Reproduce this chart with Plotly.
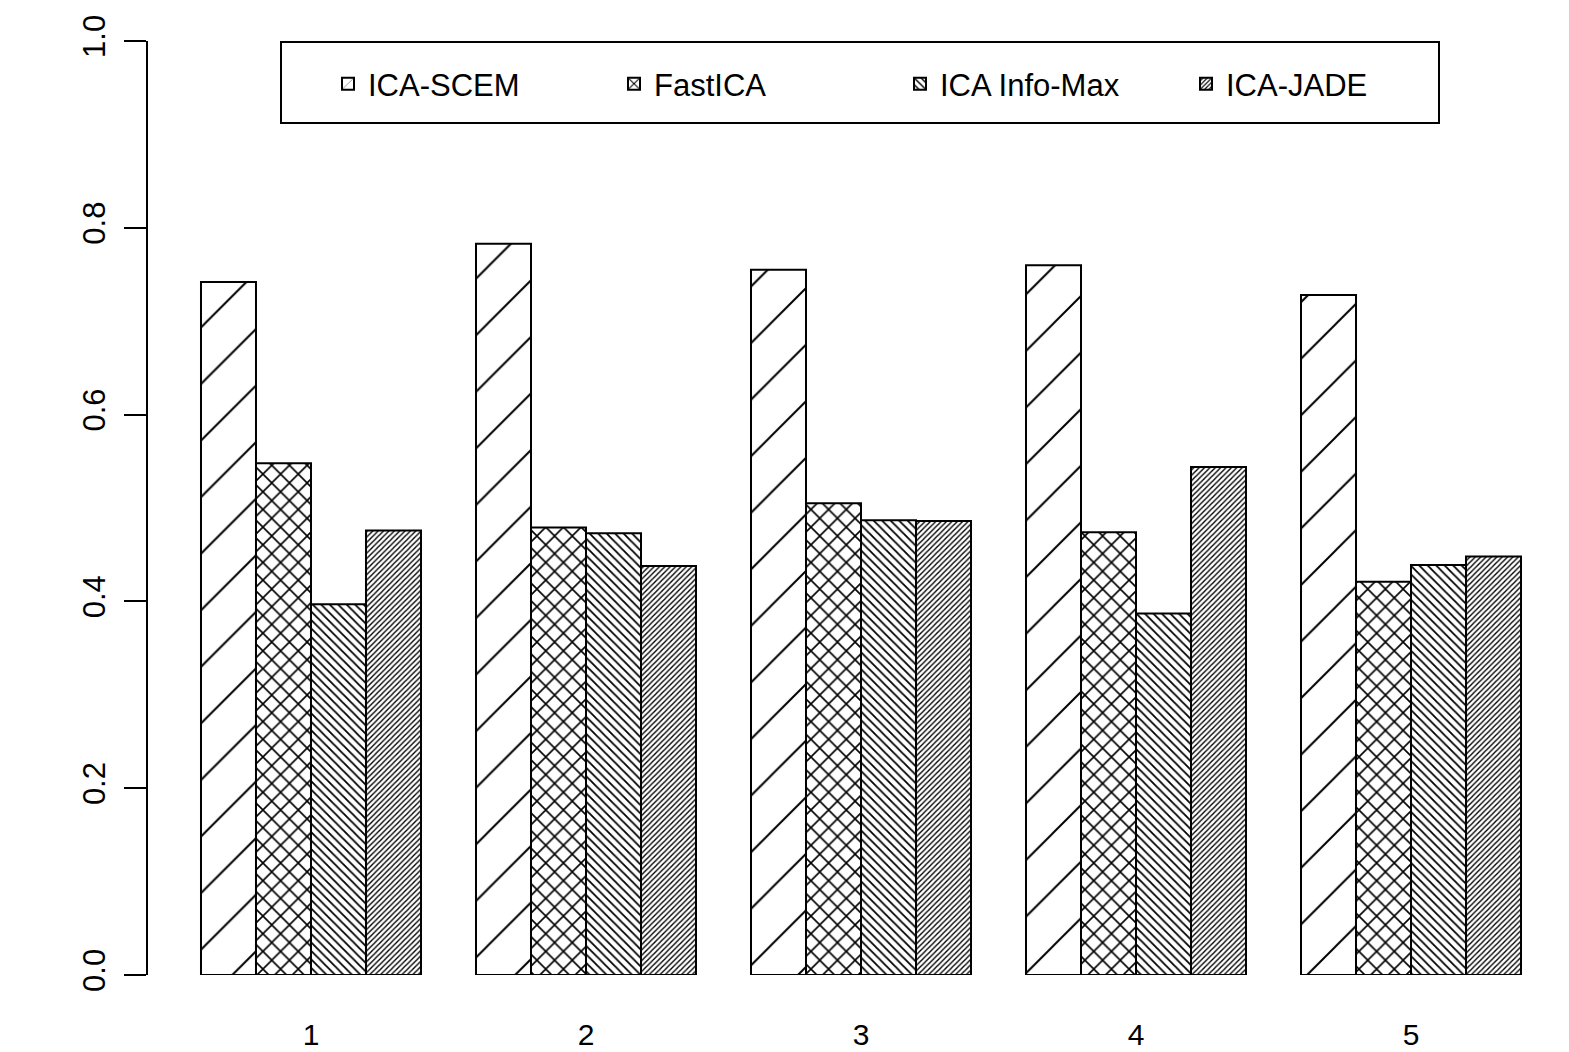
import plotly.graph_objects as go

groups = ["1", "2", "3", "4", "5"]
series_names = ["ICA-SCEM", "FastICA", "ICA Info-Max", "ICA-JADE"]
scem = [0.742, 0.783, 0.755, 0.760, 0.728]
fastica = [0.548, 0.479, 0.505, 0.474, 0.421]
infomax = [0.397, 0.473, 0.487, 0.387, 0.439]
jade = [0.476, 0.438, 0.486, 0.544, 0.448]
y_ticks = [0.0, 0.2, 0.4, 0.6, 0.8, 1.0]
y_tick_labels = ["0.0", "0.2", "0.4", "0.6", "0.8", "1.0"]

patterns = [("/", 40, 0.05), ("x", 12.5, 0.24), ("\\", 6, 0.30), ("/", 3.8, 0.36)]
values = [scem, fastica, infomax, jade]

FONT = "Liberation Sans, Arial, sans-serif"

fig = go.Figure()
for name, vals, (shape, size, sol) in zip(series_names, values, patterns):
    fig.add_trace(go.Bar(
        x=groups, y=vals, name=name,
        marker=dict(color="white", line=dict(color="black", width=2),
                    pattern=dict(shape=shape, size=size, solidity=sol,
                                 fgcolor="black", fgopacity=1, bgcolor="white",
                                 fillmode="overlay")),
    ))

# page offset of 8px (default body margin)
OFF = 8
W, H = 1569 - OFF, 1052 - OFF
PL, PR, PT, PB = 148, 1530, 41, 975  # plot area in page pixels
L = PL - OFF
T = PT - OFF
R = W - (PR - OFF)
B = H - (PB - OFF)
pw = PR - PL
ph = PB - PT


def px_x(p):
    return (p - PL) / pw


def px_y(p):
    return (PB - p) / ph


fig.add_shape(type="rect", xref="paper", yref="paper",
              x0=px_x(281), x1=px_x(1439), y0=px_y(123), y1=px_y(42),
              line=dict(color="black", width=2), fillcolor="rgba(0,0,0,0)")

fig.update_layout(
    width=W, height=H,
    margin=dict(l=L, r=R, t=T, b=B, pad=0),
    paper_bgcolor="white", plot_bgcolor="white",
    barmode="group", bargap=0.2, bargroupgap=0,
    font=dict(family=FONT, size=31, color="black"),
    showlegend=True,
    legend=dict(orientation="h", x=px_x(328), y=px_y(84), xanchor="left", yanchor="middle",
                entrywidth=241, entrywidthmode="pixels",
                bgcolor="rgba(0,0,0,0)", borderwidth=0,
                font=dict(family=FONT, size=31, color="black"), traceorder="normal"),
    xaxis=dict(range=[-0.5927, 4.4327], showline=False, showgrid=False, zeroline=False,
               ticks="", tickfont=dict(size=30), ticklabelstandoff=39, automargin=False),
    yaxis=dict(range=[0, 1], tickvals=y_ticks, ticktext=y_tick_labels, tickangle=-90,
               showline=True, linecolor="black", linewidth=2, showgrid=False, zeroline=False,
               ticks="outside", ticklen=22, tickwidth=2, tickcolor="black",
               tickfont=dict(size=31), ticklabelstandoff=7, automargin=False),
)

fig.write_html("out.html")
